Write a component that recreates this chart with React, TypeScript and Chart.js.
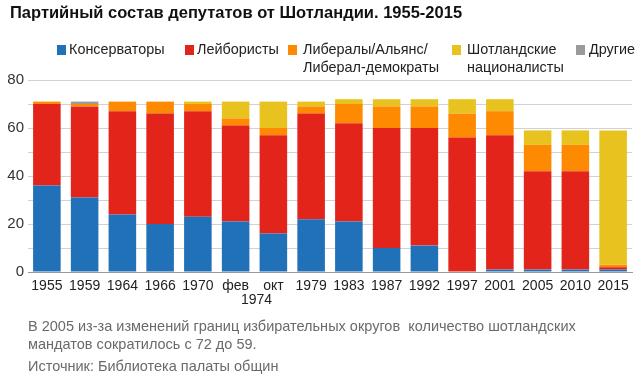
import React, { useEffect, useRef } from "react";
import { Chart, registerables } from "chart.js";

Chart.register(...registerables);

const title = "Партийный состав депутатов от Шотландии. 1955-2015";
const categories = ["1955", "1959", "1964", "1966", "1970", "фев", "окт", "1979", "1983", "1987", "1992", "1997", "2001", "2005", "2010", "2015"];
const groupLabel = "1974"; // shared by "фев" and "окт"
const groupIndices = [5, 6];

const conservatives = [36, 31, 24, 20, 23, 21, 16, 22, 21, 10, 11, 0, 1, 1, 1, 1];
const labour = [34, 38, 43, 46, 44, 40, 41, 44, 41, 50, 49, 56, 56, 41, 41, 1];
const liberals = [1, 1, 4, 5, 3, 3, 3, 3, 8, 9, 9, 10, 10, 11, 11, 1];
const snp = [0, 0, 0, 0, 1, 7, 11, 2, 2, 3, 3, 6, 5, 6, 6, 56];
const others = [0, 1, 0, 0, 0, 0, 0, 0, 0, 0, 0, 0, 0, 0, 0, 0];

const seriesNames = ["Консерваторы", "Лейбористы", "Либералы/Альянс/\nЛиберал-демократы", "Шотландские\nнационалисты", "Другие"];
const seriesColors = ["#2071b8", "#e2241b", "#fd8a00", "#e8c31f", "#9a9a9a"];
const seriesValues = [conservatives, labour, liberals, snp, others];

const yMin = 0;
const yMax = 80;
const yStep = 10;
const yLabelStep = 20;

const note1 = "В 2005 из-за изменений границ избирательных округов  количество шотландских";
const note2 = "мандатов сократилось с 72 до 59.";
const source = "Источник: Библиотека палаты общин";

const FONT = '"Liberation Sans", Arial, Helvetica, sans-serif';

const legendLayout = [
  { sq: 57, tx: 69 },
  { sq: 185, tx: 197 },
  { sq: 288, tx: 303 },
  { sq: 452, tx: 467 },
  { sq: 576, tx: 589 },
];

const groupPlugin = {
  id: "groupLabel",
  afterDraw(chart: any) {
    const x = chart.scales.x;
    const a = x.getPixelForValue(groupIndices[0]);
    const b = x.getPixelForValue(groupIndices[1]);
    const ctx = chart.ctx;
    ctx.save();
    ctx.font = `14px ${FONT}`;
    ctx.fillStyle = "#222";
    ctx.textAlign = "center";
    ctx.textBaseline = "middle";
    ctx.fillText(groupLabel, (a + b) / 2 + 2, x.top + 28);
    ctx.restore();
  },
};

export default function App() {
  const ref = useRef<HTMLCanvasElement | null>(null);

  useEffect(() => {
    if (!ref.current) return;
    const chart = new Chart(ref.current, {
      type: "bar",
      data: {
        labels: categories,
        datasets: seriesValues.map((vals, i) => ({
          label: seriesNames[i].replace("\n", " "),
          data: vals,
          backgroundColor: seriesColors[i],
          borderWidth: 0,
          categoryPercentage: 0.73,
          barPercentage: 1.0,
        })),
      },
      options: {
        animation: false,
        responsive: false,
        maintainAspectRatio: false,
        layout: { padding: { top: 80, left: 0, right: 8, bottom: 70 } },
        plugins: {
          legend: { display: false },
          title: { display: false },
          tooltip: { enabled: false },
        },
        scales: {
          x: {
            stacked: true,
            grid: { display: false, drawTicks: false },
            border: { display: true, color: "#999", width: 1 },
            ticks: {
              autoSkip: false,
              maxRotation: 0,
              minRotation: 0,
              padding: 6,
              color: "#222",
              font: { family: FONT, size: 14 },
            },
            afterFit(scale: any) {
              scale.height = 40;
            },
          },
          y: {
            stacked: true,
            min: yMin,
            max: yMax,
            grid: { color: "#d2d2d2", drawTicks: false, lineWidth: 1 },
            border: { display: false },
            ticks: {
              stepSize: yStep,
              padding: 4,
              color: "#333",
              font: { family: FONT, size: 15 },
              callback: (v: any) => (Number(v) % yLabelStep === 0 ? String(v) : ""),
            },
            afterFit(scale: any) {
              scale.width = 28;
            },
          },
        },
      },
      plugins: [groupPlugin],
    });
    return () => chart.destroy();
  }, []);

  return (
    <div style={{ position: "fixed", left: 0, top: 0, width: 640, height: 382, background: "#fff", fontFamily: FONT, overflow: "hidden" }}>
      <canvas ref={ref} width={640} height={382} style={{ position: "absolute", left: 0, top: 0, width: 640, height: 382 }} />
      <div style={{ position: "absolute", left: 10, top: 1, fontSize: 16.5, fontWeight: "bold", color: "#111", lineHeight: "22px", whiteSpace: "nowrap" }}>
        {title}
      </div>
      {seriesNames.map((name, i) => (
        <React.Fragment key={i}>
          <div style={{ position: "absolute", left: legendLayout[i].sq, top: 45, width: 9, height: 10, background: seriesColors[i] }} />
          <div style={{ position: "absolute", left: legendLayout[i].tx, top: 41, fontSize: 14.4, lineHeight: "17.5px", color: "#222", whiteSpace: "pre" }}>
            {name}
          </div>
        </React.Fragment>
      ))}
      <div style={{ position: "absolute", left: 28, top: 317, fontSize: 14.5, lineHeight: "18px", color: "#6a6a6a", whiteSpace: "pre" }}>
        {note1 + "\n" + note2}
      </div>
      <div style={{ position: "absolute", left: 28, top: 357, fontSize: 14.5, lineHeight: "18px", color: "#6a6a6a", whiteSpace: "pre" }}>
        {source}
      </div>
    </div>
  );
}
